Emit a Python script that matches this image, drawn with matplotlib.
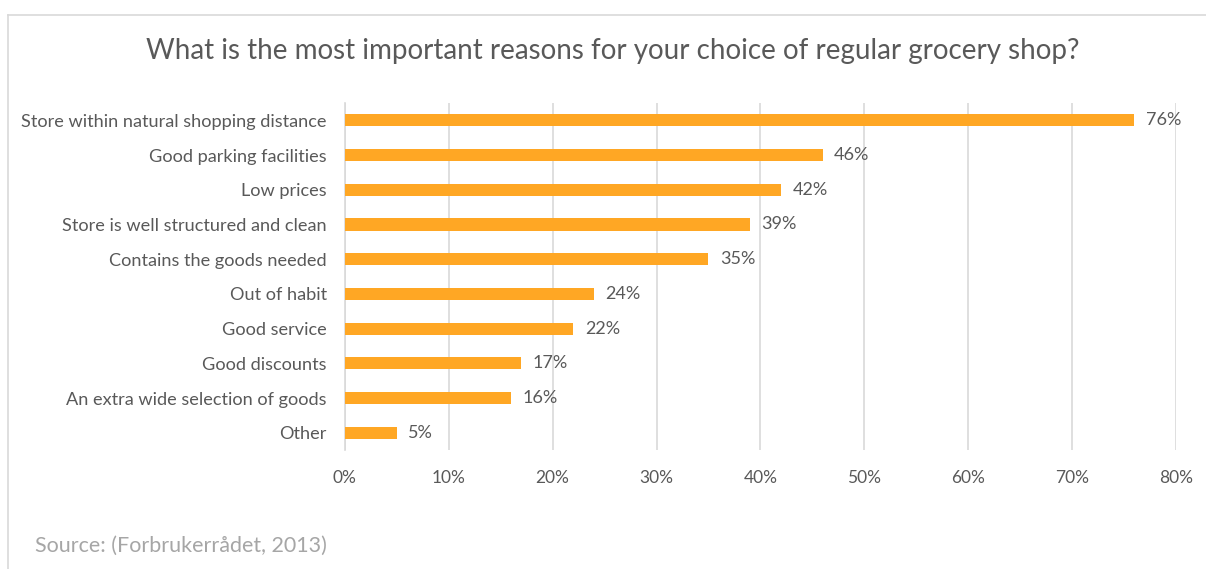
import matplotlib.pyplot as plt
from matplotlib.ticker import PercentFormatter
from matplotlib.lines import Line2D

plt.rcParams['font.family'] = ['Lato', 'DejaVu Sans']

# Survey answers, top to bottom
reasons = [
    "Store within natural shopping distance",
    "Good parking facilities",
    "Low prices",
    "Store is well structured and clean",
    "Contains the goods needed",
    "Out of habit",
    "Good service",
    "Good discounts",
    "An extra wide selection of goods",
    "Other",
]
shares = [76, 46, 42, 39, 35, 24, 22, 17, 16, 5]
xticks = [0, 10, 20, 30, 40, 50, 60, 70, 80]

text_col = "#595959"
bar_col = "#FFA724"
grid_col = "#D9D9D9"

fig = plt.figure(figsize=(12.06, 5.69), dpi=100)
ax = fig.add_axes([0.286, 0.209, 0.689, 0.610])

y = list(range(len(reasons)))
ax.barh(y, shares, height=0.35, color=bar_col, zorder=3)
for yi, v in zip(y, shares):
    ax.text(v + 1.1, yi, f"{v}%", va="center", ha="left", fontsize=13, color=text_col)

ax.set_yticks(y)
ax.set_yticklabels(reasons, fontsize=13.1, color=text_col)
ax.set_ylim(len(reasons) - 0.5, -0.5)
ax.set_xlim(0, 80)
ax.set_xticks(xticks)
ax.xaxis.set_major_formatter(PercentFormatter(decimals=0))
ax.tick_params(axis="x", labelsize=12.5, labelcolor=text_col, length=0, pad=14)
ax.tick_params(axis="y", length=0, pad=13)
ax.grid(axis="x", color=grid_col, linewidth=1.2, zorder=0)
for s in ["top", "right", "bottom"]:
    ax.spines[s].set_visible(False)
ax.spines["left"].set_color(grid_col)
ax.spines["left"].set_linewidth(1.2)

fig.text(0.508, 0.91, "What is the most important reasons for your choice of regular grocery shop?",
         ha="center", va="center", fontsize=20, color=text_col)
fig.text(0.029, 0.04, "Source: (Forbrukerrådet, 2013)", ha="left", va="center",
         fontsize=15.5, color="#A6A6A6")

# frame around the chart
fig.add_artist(Line2D([0.007, 1.0], [0.974, 0.974], color="#D9D9D9", linewidth=1.2))
fig.add_artist(Line2D([0.007, 0.007], [0.0, 0.974], color="#D9D9D9", linewidth=1.2))

fig.savefig("out.png", dpi=100)
